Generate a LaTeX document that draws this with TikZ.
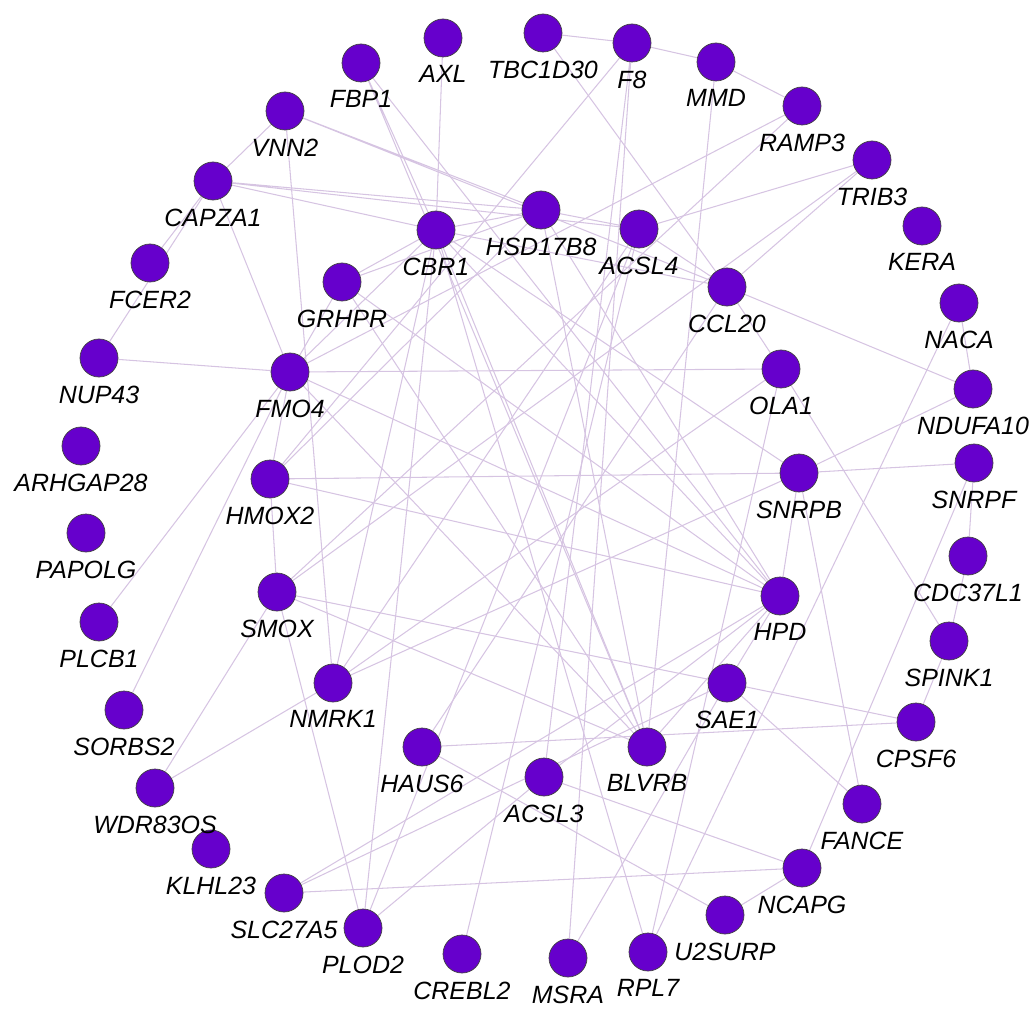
\documentclass[tikz,border=0pt]{standalone}
\usepackage{fontspec}
\setmainfont{Liberation Sans}
\usetikzlibrary{backgrounds}
\definecolor{genefill}{RGB}{102,0,204}
\definecolor{edgecol}{RGB}{214,196,226}
\begin{document}
\begin{tikzpicture}[
    x=0.2mm, y=-0.2mm,
    gene/.style={circle, draw=black!75, line width=0.4pt, fill=genefill,
                 minimum size=7.6mm, inner sep=0pt},
    genelabel/.style={font=\fontsize{14.2pt}{16pt}\selectfont\itshape,
                 inner sep=0pt, label distance=1.6mm},
    edge/.style={draw=edgecol, line width=0.6pt}
]
\useasboundingbox (0,0) rectangle (1035,1012);

% outer ring
\node (tbc1d30) [gene, label={[genelabel]below:TBC1D30}] at (543,33) {};
\node (f8) [gene, label={[genelabel]below:F8}] at (632,43) {};
\node (mmd) [gene, label={[genelabel]below:MMD}] at (716,62) {};
\node (ramp3) [gene, label={[genelabel]below:RAMP3}] at (802,106) {};
\node (trib3) [gene, label={[genelabel]below:TRIB3}] at (872,160) {};
\node (kera) [gene, label={[genelabel]below:KERA}] at (922,226) {};
\node (naca) [gene, label={[genelabel]below:NACA}] at (959,303) {};
\node (ndufa10) [gene, label={[genelabel]below:NDUFA10}] at (973,389) {};
\node (snrpf) [gene, label={[genelabel]below:SNRPF}] at (974,463) {};
\node (cdc37l1) [gene, label={[genelabel]below:CDC37L1}] at (968,556) {};
\node (spink1) [gene, label={[genelabel]below:SPINK1}] at (949,641) {};
\node (cpsf6) [gene, label={[genelabel]below:CPSF6}] at (916,722) {};
\node (fance) [gene, label={[genelabel]below:FANCE}] at (862,804) {};
\node (ncapg) [gene, label={[genelabel]below:NCAPG}] at (802,868) {};
\node (u2surp) [gene, label={[genelabel]below:U2SURP}] at (725,915) {};
\node (rpl7) [gene, label={[genelabel]below:RPL7}] at (648,952) {};
\node (msra) [gene, label={[genelabel]below:MSRA}] at (568,958) {};
\node (crebl2) [gene, label={[genelabel]below:CREBL2}] at (462,954) {};
\node (plod2) [gene, label={[genelabel]below:PLOD2}] at (363,928) {};
\node (slc27a5) [gene, label={[genelabel]below:SLC27A5}] at (284,893) {};
\node (klhl23) [gene, label={[genelabel]below:KLHL23}] at (211,849) {};
\node (wdr83os) [gene, label={[genelabel]below:WDR83OS}] at (155,788) {};
\node (sorbs2) [gene, label={[genelabel]below:SORBS2}] at (124,710) {};
\node (plcb1) [gene, label={[genelabel]below:PLCB1}] at (99,622) {};
\node (papolg) [gene, label={[genelabel]below:PAPOLG}] at (86,533) {};
\node (arhgap28) [gene, label={[genelabel]below:ARHGAP28}] at (81,446) {};
\node (nup43) [gene, label={[genelabel]below:NUP43}] at (99,358) {};
\node (fcer2) [gene, label={[genelabel]below:FCER2}] at (150,263) {};
\node (capza1) [gene, label={[genelabel]below:CAPZA1}] at (213,181) {};
\node (vnn2) [gene, label={[genelabel]below:VNN2}] at (285,111) {};
\node (fbp1) [gene, label={[genelabel]below:FBP1}] at (361,63) {};
\node (axl) [gene, label={[genelabel]below:AXL}] at (443,38) {};

% inner ring
\node (cbr1) [gene, label={[genelabel]below:CBR1}] at (436,230) {};
\node (hsd17b8) [gene, label={[genelabel]below:HSD17B8}] at (541,210) {};
\node (acsl4) [gene, label={[genelabel]below:ACSL4}] at (639,229) {};
\node (grhpr) [gene, label={[genelabel]below:GRHPR}] at (342,282) {};
\node (ccl20) [gene, label={[genelabel]below:CCL20}] at (727,287) {};
\node (fmo4) [gene, label={[genelabel]below:FMO4}] at (290,372) {};
\node (ola1) [gene, label={[genelabel]below:OLA1}] at (781,369) {};
\node (hmox2) [gene, label={[genelabel]below:HMOX2}] at (270,479) {};
\node (snrpb) [gene, label={[genelabel]below:SNRPB}] at (799,473) {};
\node (smox) [gene, label={[genelabel]below:SMOX}] at (277,592) {};
\node (hpd) [gene, label={[genelabel]below:HPD}] at (780,596) {};
\node (nmrk1) [gene, label={[genelabel]below:NMRK1}] at (333,683) {};
\node (sae1) [gene, label={[genelabel]below:SAE1}] at (727,683) {};
\node (haus6) [gene, label={[genelabel]below:HAUS6}] at (422,747) {};
\node (blvrb) [gene, label={[genelabel]below:BLVRB}] at (647,747) {};
\node (acsl3) [gene, label={[genelabel]below:ACSL3}] at (544,777) {};

\begin{scope}[on background layer]
\draw [edge] (capza1) -- (vnn2) (capza1) -- (fcer2) (capza1) -- (nup43) (capza1) -- (hsd17b8)
  (capza1) -- (acsl4) (capza1) -- (cbr1) (capza1) -- (fmo4);
\draw [edge] (vnn2) -- (nmrk1) (vnn2) -- (hsd17b8) (vnn2) -- (ccl20);
\draw [edge] (fbp1) -- (cbr1) (fbp1) -- (blvrb) (fbp1) -- (hpd);
\draw [edge] (axl) -- (cbr1);
\draw [edge] (tbc1d30) -- (f8) (tbc1d30) -- (ccl20);
\draw [edge] (f8) -- (mmd) (f8) -- (hmox2) (f8) -- (msra) (f8) -- (acsl3);
\draw [edge] (mmd) -- (ramp3) (mmd) -- (blvrb);
\draw [edge] (ramp3) -- (fmo4) (ramp3) -- (smox);
\draw [edge] (trib3) -- (acsl4) (trib3) -- (ccl20) (trib3) -- (smox);
\draw [edge] (naca) -- (ndufa10) (naca) -- (rpl7);
\draw [edge] (ccl20) -- (ndufa10) (ccl20) -- (ola1) (ccl20) -- (acsl4) (ccl20) -- (cbr1)
  (ccl20) -- (haus6);
\draw [edge] (ola1) -- (spink1) (ola1) -- (rpl7) (ola1) -- (fmo4) (ola1) -- (nmrk1);
\draw [edge] (snrpf) -- (snrpb) (snrpf) -- (cdc37l1) (snrpf) -- (ncapg);
\draw [edge] (cdc37l1) -- (spink1) (spink1) -- (cpsf6);
\draw [edge] (cpsf6) -- (sae1) (cpsf6) -- (haus6);
\draw [edge] (ndufa10) -- (snrpb);
\draw [edge] (snrpb) -- (fance) (snrpb) -- (hmox2) (snrpb) -- (cbr1) (snrpb) -- (nmrk1)
  (snrpb) -- (hpd);
\draw [edge] (ncapg) -- (u2surp) (ncapg) -- (acsl3) (ncapg) -- (slc27a5);
\draw [edge] (haus6) -- (u2surp);
\draw [edge] (sae1) -- (fance) (sae1) -- (msra) (sae1) -- (smox) (sae1) -- (slc27a5)
  (sae1) -- (hpd);
\draw [edge] (plod2) -- (acsl3) (plod2) -- (smox) (plod2) -- (cbr1) (plod2) -- (acsl4);
\draw [edge] (crebl2) -- (acsl4);
\draw [edge] (wdr83os) -- (nmrk1) (wdr83os) -- (smox);
\draw [edge] (plcb1) -- (fmo4) (sorbs2) -- (fmo4) (nup43) -- (fmo4);
\draw [edge] (fmo4) -- (grhpr) (fmo4) -- (cbr1) (fmo4) -- (hpd) (fmo4) -- (blvrb)
  (fmo4) -- (hmox2);
\draw [edge] (hmox2) -- (hsd17b8) (hmox2) -- (hpd) (hmox2) -- (smox);
\draw [edge] (smox) -- (blvrb) (slc27a5) -- (hpd) (acsl3) -- (hpd);
\draw [edge] (cbr1) -- (grhpr) (cbr1) -- (hsd17b8) (cbr1) -- (blvrb) (cbr1) -- (nmrk1)
  (cbr1) -- (rpl7) (cbr1) -- (hpd);
\draw [edge] (hsd17b8) -- (acsl4) (hsd17b8) -- (blvrb) (hsd17b8) -- (hpd) (hsd17b8) -- (grhpr);
\draw [edge] (acsl4) -- (nmrk1);
\draw [edge] (grhpr) -- (blvrb) (grhpr) -- (hpd);
\draw [edge] (blvrb) -- (hpd);
\end{scope}
\end{tikzpicture}
\end{document}
